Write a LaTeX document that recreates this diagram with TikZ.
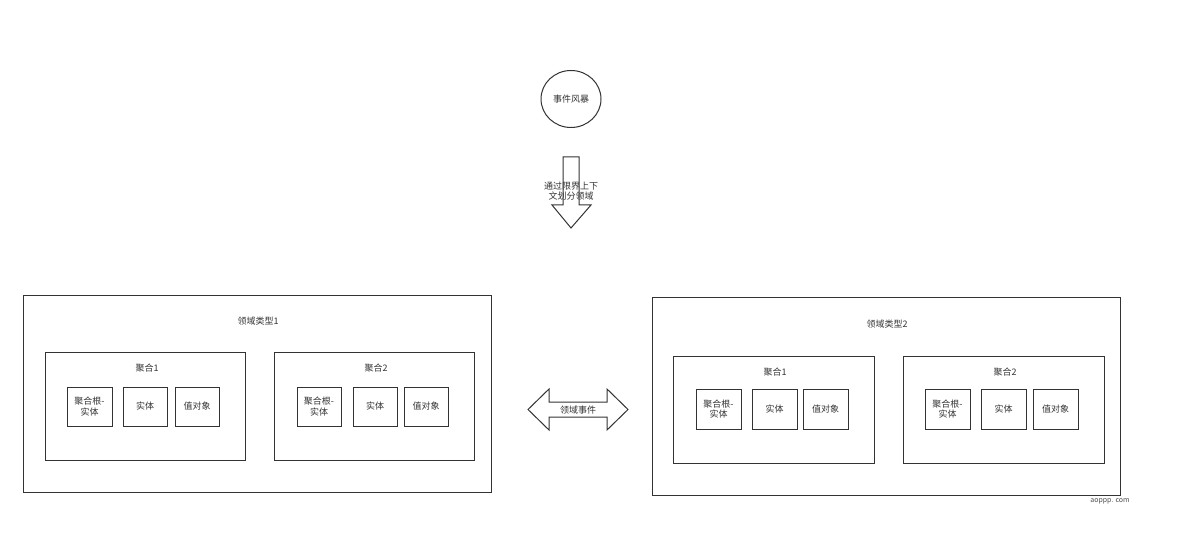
\documentclass[tikz,border=0pt]{standalone}
\usepackage{fontspec}
\setmainfont{Noto Sans CJK SC}
\usetikzlibrary{shapes.geometric}
\begin{document}
\begin{tikzpicture}[x=1pt,y=-1pt,
  line width=1pt,
  txt/.style={font=\fontsize{9}{10.5}\selectfont, text=black!80, inner sep=0pt, align=center},
  rbox/.style={draw=black!80, fill=white},
  blockarrow/.style={draw=black!80, fill=white, line join=miter},
]
\useasboundingbox (0,0) rectangle (1177,534);
\fill[white] (0,0) rectangle (1177,534);

% event storming
\node[ellipse, draw=black!80, minimum width=60pt, minimum height=57pt, inner sep=0pt, txt] (es) at (571,99) {事件风暴};

% down block arrow
\coordinate (downtip) at (571,228);
\draw[blockarrow] (563,157) -- (579,157) -- (579,205) -- (591,205) -- (downtip)
  -- (552,205) -- (563,205) -- cycle;
\node[txt] (downlbl) at (571,191) {通过限界上下\\文划分领域};

% double arrow
\coordinate (evl) at (528,409.5);
\coordinate (evr) at (628,409.5);
\draw[blockarrow] (evl) -- (549,389) -- (549,402) -- (607,402) -- (607,389) -- (evr)
  -- (607,430) -- (607,417) -- (549,417) -- (549,430) -- cycle;
\node[txt] (evlbl) at (578,410) {领域事件};

% left domain
\draw[rbox] (23,296) rectangle (491,492);
\node[txt] (d1) at (258,321) {领域类型1};
\draw[rbox] (45,352) rectangle (245,460);
\node[txt] (a11) at (147,368) {聚合1};
\draw[rbox] (67,387) rectangle (112,426);
\node[txt] (a11r) at (89.5,406.5) {聚合根-\\实体};
\draw[rbox] (123,387) rectangle (167,426);
\node[txt] (a11e) at (145,406.5) {实体};
\draw[rbox] (175,387) rectangle (219,426);
\node[txt] (a11v) at (197,406.5) {值对象};

\draw[rbox] (274,352) rectangle (474,460);
\node[txt] (a12) at (376,368) {聚合2};
\draw[rbox] (297,387) rectangle (341,426);
\node[txt] (a12r) at (319,406.5) {聚合根-\\实体};
\draw[rbox] (353,387) rectangle (397,426);
\node[txt] (a12e) at (375,406.5) {实体};
\draw[rbox] (404,387) rectangle (448,426);
\node[txt] (a12v) at (426,406.5) {值对象};

% right domain
\draw[rbox] (652,298) rectangle (1120,495);
\node[txt] (d2) at (887,324) {领域类型2};
\draw[rbox] (673,356) rectangle (874,463);
\node[txt] (a21) at (775,372) {聚合1};
\draw[rbox] (696,389) rectangle (741,429);
\node[txt] (a21r) at (718.5,409) {聚合根-\\实体};
\draw[rbox] (752,389) rectangle (797,429);
\node[txt] (a21e) at (774.5,409) {实体};
\draw[rbox] (803,389) rectangle (848,429);
\node[txt] (a21v) at (825.5,409) {值对象};

\draw[rbox] (903,356) rectangle (1104,463);
\node[txt] (a22) at (1005,372) {聚合2};
\draw[rbox] (925,389) rectangle (970,429);
\node[txt] (a22r) at (947.5,409) {聚合根-\\实体};
\draw[rbox] (981,389) rectangle (1026,429);
\node[txt] (a22e) at (1003.5,409) {实体};
\draw[rbox] (1033,389) rectangle (1078,429);
\node[txt] (a22v) at (1055.5,409) {值对象};

\node[font=\fontsize{7}{8}\selectfont, text=black!70, inner sep=0pt] (wm) at (1110,501) {aoppp. com};
\end{tikzpicture}
\end{document}
